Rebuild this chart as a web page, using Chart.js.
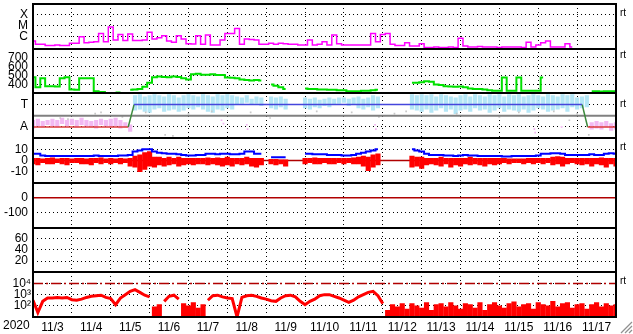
<!DOCTYPE html>
<html>
<head>
<meta charset="utf-8">
<script src="https://cdn.jsdelivr.net/npm/chart.js@4.4.1/dist/chart.umd.min.js"></script>
<style>
body{margin:0;background:#fff;}
#grafico{display:block;}
</style>
</head>
<body>
<canvas id="grafico" width="633" height="334"></canvas>
<script>
// datos: un valor cada 3 horas, dia 0 = 11/3 00:00
const paso = 0.125;
const fechas = ['11/3','11/4','11/5','11/6','11/7','11/8','11/9','11/10','11/11','11/12','11/13','11/14','11/15','11/16','11/17'];

// etiquetas de cada panel
const ticksRayos = [0, 1, 2];
const etiquetasRayos = ['C', 'M', 'X'];
const ticksViento = [400, 500, 600, 700];
const etiquetasViento = ['400', '500', '600', '700'];
const ticksSector = [-0.5, 0.5];
const etiquetasSector = ['A', 'T'];
const ticksBz = [-10, 0, 10];
const etiquetasBz = ['-10', '0', '10'];
const ticksDst = [-100, 0];
const etiquetasDst = ['-100', '0'];
const ticksAp = [20, 40, 60];
const etiquetasAp = ['20', '40', '60'];
const ticksElectrones = [2, 3, 4];
const etiquetasElectrones = ['10²', '10³', '10⁴'];

// rayos X (log, C = 0)
const rayosX = [-0.4,-0.7,-0.7,-0.8,-0.8,-0.75,-0.8,-0.8,-0.6,-0.6,
 0.0,-0.55,-0.5,-0.45,0.3,-0.45,0.9,-0.3,0.2,-0.35,
 0.25,-0.35,-0.35,-0.3,0.4,-0.2,-0.1,0.1,-0.4,-0.5,
 0.1,-0.2,-0.65,-0.66,0.1,-0.7,0.15,-0.75,-0.75,-0.3,
 0.3,0.3,0.75,-0.7,-0.2,-0.25,-0.3,-0.7,-0.7,-0.6,
 -0.7,-0.6,-0.65,-0.7,-0.7,-0.75,-0.75,-0.3,-0.75,-0.7,
 -0.45,-0.75,0.15,-0.65,-0.77,-0.77,-0.75,-0.77,-0.77,-0.77,
 0.3,-0.45,0.2,0.3,-0.7,-0.8,-0.8,-0.55,-0.85,-0.85,
 -0.65,-1.0,-1.0,-0.95,-1.0,-1.0,-0.95,-1.0,-0.15,-0.85,
 -0.95,-0.95,-0.9,-0.95,-0.95,-0.95,-1.0,-0.95,-0.95,-0.95,
 -0.95,-1.0,-0.5,-0.95,-0.75,-0.55,-0.4,-0.95,-0.95,-0.95,
 -0.65,-0.95];

// velocidad del viento solar km/s
const vientoSolar = [480,370,470,380,380,378,470,480,345,340,
 470,470,470,325,315,315,null,310,310,null,
 340,345,350,375,420,480,490,485,480,490,
 485,470,455,515,520,510,510,515,505,505,
 478,475,470,455,450,445,450,445,null,400,
 385,370,350,null,null,null,355,350,350,345,
 345,340,340,335,335,325,325,325,330,330,
 335,340,null,null,null,null,null,null,420,420,
 425,435,430,400,395,380,378,375,378,370,
 355,350,350,345,335,330,330,478,330,330,
 478,330,330,330,330,478,null,null,null,null,
 null,null,null,null,null,325,325,322,325,325,
 325];

// sector (T = 0.5, A = -0.5)
const sectorDias = [0, 2.45, 2.6, 14.13, 14.27, 15];
const sectorValores = [-0.5, -0.5, 0.5, 0.5, -0.5, -0.5];

// angulo: rango min/max por intervalo
const faseAzulInicio = 21;
const faseAzul = [[0.25,0.9],[0.3,0.95],[0.2,0.85],[0.15,0.9],[0.3,0.95],[0.35,0.9],[0.2,0.85],[0.25,0.95],[0.3,0.9],[0.2,0.8],
 [0.25,0.9],[0.35,0.95],[0.3,0.9],[0.4,0.85],[0.3,0.95],[0.2,0.9],[0.15,0.85],[0.3,0.95],[0.25,0.9],[0.35,0.95],
 [0.3,0.9],[0.5,0.85],[0.55,0.8],[0.6,0.9],[0.5,0.75],[0.55,0.85],[0.45,0.8],null,
 [0.35,0.85],[0.3,0.8],[0.4,0.85],[0.3,0.75],null,null,null,
 [0.35,0.8],[0.3,0.75],[0.4,0.8],[0.35,0.7],[0.45,0.75],[0.4,0.8],[0.5,0.75],[0.55,0.8],[0.6,0.8],[0.45,0.75],
 [0.5,0.8],[0.35,0.85],[0.3,0.75],[0.4,0.8],[0.25,0.9],[0.35,0.85],null,null,null,null,null,null,
 [0.3,0.95],[0.25,0.9],[0.2,0.95],[0.3,0.9],[0.15,0.95],[0.25,0.85],[0.35,0.95],[0.2,0.9],[0.3,0.85],[0.1,0.8],
 [0.25,0.9],[0.3,0.95],[0.2,0.85],[0.35,0.95],[0.25,0.9],[0.3,0.85],[0.15,0.95],[0.25,0.9],[0.35,0.95],[0.2,0.85],
 [0.3,0.95],[0.25,0.9],[0.2,0.95],[0.3,0.85],[0.15,0.9],[0.25,0.95],[0.35,0.9],[0.3,0.85],[0.2,0.95],[0.25,0.9],
 [0.3,0.85],[0.35,0.95],[0.2,0.9],[0.4,0.95],[0.3,0.8],[0.35,0.85],[0.4,0.9]];
const faseRosaInicio = 0;
const faseRosa = [[-0.55,-0.2],[-0.45,-0.15],[-0.5,-0.25],[-0.4,-0.2],[-0.45,-0.15],[-0.5,-0.2],[-0.35,-0.1],[-0.45,-0.2],[-0.4,-0.15],[-0.5,-0.2],
 [-0.4,-0.1],[-0.45,-0.2],[-0.5,-0.25],[-0.55,-0.2],[-0.4,-0.15],[-0.45,-0.2],[-0.5,-0.15],[-0.45,-0.1],[-0.55,-0.2],[-0.5,-0.3],[-0.7,-0.4]];
const faseRosaFinInicio = 115;
const faseRosaFin = [[-0.6,-0.3],[-0.55,-0.25],[-0.6,-0.3],[-0.5,-0.25],[-0.65,-0.35],[-0.6,-0.3]];
const grisDias = [0.7,0.9,1.6,1.75,2.3,2.9,3.4,3.6,4.0,4.6,5.6,6.1,7.3,8.2,8.9,9.3,9.6,10.9,12.0,12.5,13.4,13.8,14.0,14.3];
const grisValores = [-0.1,-0.15,0.1,0.15,-0.05,0.15,-0.85,-0.9,0.1,0.2,0.15,-0.1,0.2,0.15,-0.05,0.1,0.2,0.1,-0.05,0.15,0.2,-0.2,0.1,-0.85];
const rosaDias = [4.85,4.9,5.5,5.52,8.8,8.82,12.9,12.92,13.6];
const rosaValores = [-0.2,-0.35,-0.4,-0.6,-0.4,-0.6,-0.6,-0.75,-0.5];

// campo magnetico nT
const bt = [6,6,4.5,4,4,4,4,4,4,4,
 4,4,4,4.5,4,4,4,4,4.5,4.5,
 5,8,9,10,10,8,7,6.5,6,6,
 5.5,5,4.5,4.5,5,5,6,6,5.5,6,
 6,5.5,5.5,6,8,8,6,6,null,3,
 3,3,3,null,null,null,6,6,5.5,5.5,
 5.5,5,5,5,4.5,4.5,5,6,7,8,
 9,10,null,null,null,null,null,null,10,9,
 8,6,5,5,5,4.5,4.5,4,4.5,5,
 4.5,4.5,4,4,4,4,4,3.5,3.5,4,
 4,4,4,4,4.5,6,6,6.5,6.5,6,
 5,5,5,5,5,5.5,5,5,6,6.5,6];
const bzRango = [[-3,2],[-4,2],[-2,1.5],[-3,2],[-3,2.5],[-2,1.5],[-3,2],[-4,2],[-2,1.5],[-2,2],
 [-3,2],[-3,1.5],[-4,2],[-2,2],[-3,2.5],[-2,1.5],[-3,2],[-2,1.5],[-3,2],[-2,1.5],
 [-5,2],[-6,4],[-10,5],[-8,7],[-5,8],[-6,3],[-4,3],[-5,2],[-4,3],[-3,2],
 [-5,3],[-4,2],[-3,2],[-4,2],[-3,2],[-3,2],[-4,2.5],[-3,2],[-4,2.5],[-5,2],
 [-4,3],[-5,2],[-3,2],[-4,2],[-3,3],[-5,2],[-6,2],[-4,2],null,[-3,1],
 [-4,1],[-3,0.5],[-5,0.5],null,null,null,[-3,2],[-2,2],[-3,2.5],[-3,2],
 [-2,2],[-3,2],[-3,2],[-2,2],[-3,2],[-2,2],[-3,2.5],[-3,3],[-5,4],[-9,3],
 [-6,5],[-4,6],null,null,null,null,null,null,[-6,4],[-5,3],
 [-7,3],[-4,2],[-3,2],[-4,2],[-5,3],[-3,2],[-6,2],[-4,2],[-5,2],[-3,2],
 [-4,3],[-3,2],[-4,2],[-5,2],[-3,2],[-4,2],[-3,2],[-2,2],[-3,1.5],[-2,1.5],
 [-2,1.5],[-3,1.5],[-2,2],[-3,2],[-2,2],[-3,2],[-2,2],[-4,3],[-3,3.5],[-5,3],
 [-3,2],[-2,2],[-3,2],[-4,2],[-3,2],[-5,2],[-3,2],[-4,2.5],[-6,2],[-3,2],[-5,2]];

// electrones (log)
const electrones = [2.5,1.4,2.4,2.7,2.7,2.75,2.7,2.75,2.55,2.5,
 2.6,2.75,2.85,2.9,2.95,2.75,2.65,2.1,2.7,3.0,
 3.3,3.45,3.2,2.95,2.8,null,null,2.4,2.85,2.95,
 2.6,null,null,null,null,null,2.5,2.9,2.95,2.8,
 2.7,2.65,1.0,2.75,2.9,2.95,2.85,2.7,2.6,2.45,
 2.4,2.7,2.9,2.95,2.8,2.4,2.1,2.4,2.6,2.9,
 3.0,3.0,2.85,2.7,2.5,2.3,2.5,2.8,3.0,3.2,
 3.3,2.9,2.2];
const caidaElectrones1 = [1.9, 2.1];
const caidaElectrones2 = [2.2, 2.0, 2.3, 1.8, 2.1];
const electronesRuido = [1.6,2.1,1.9,2.2,1.7,2.2,2.0,1.8,2.3,1.6,
 2.1,2.2,1.9,2.3,2.0,1.7,2.2,2.1,1.8,2.3,
 1.6,2.1,2.3,2.0,1.8,2.2,2.35,1.9,2.1,2.2,
 1.7,2.3,2.1,2.0,2.4,1.9,2.2,2.3,1.8,2.1,
 2.2,1.7,2.1,2.3,1.9,2.2,2.0,2.1];

const fuente = { family: 'Liberation Sans, Arial, sans-serif', size: 12 };

function serie(valores, inicio){
    return valores.map((v, i) => ({ x: (inicio + i) * paso, y: v }));
}

function barras(valores, inicio){
    return serie(valores, inicio).filter(p => p.y !== null);
}

function puntos(dias, valores){
    return dias.map((d, i) => ({ x: d, y: valores[i] }));
}

function lineaFija(valor){
    return [{ x: 0, y: valor }, { x: 15, y: valor }];
}

function sinRelleno(eje){
    eje.paddingTop = 0;
    eje.paddingBottom = 0;
    eje.paddingLeft = 0;
    eje.paddingRight = 0;
}

function ejeY(min, max, valores, etiquetas, relleno){
    return {
        type: 'linear',
        position: 'left',
        stack: 'paneles',
        stackWeight: 1,
        min: min,
        max: max,
        afterBuildTicks: (eje) => { eje.ticks = valores.map(v => ({ value: v })); },
        afterFit: (eje) => { eje.width = 33; sinRelleno(eje); },
        ticks: {
            autoSkip: false,
            callback: (v, i) => etiquetas[i],
            padding: relleno,
            color: '#000',
            font: fuente
        },
        grid: { color: '#000', lineWidth: 1, drawTicks: false },
        border: { display: false, dash: [1, 3] }
    };
}

// marcos de los paneles, recorte por panel y textos sueltos
const marcoPaneles = {
    id: 'marcoPaneles',
    beforeDatasetDraw(chart, args){
        const eje = args.meta.yScale;
        const area = chart.chartArea;
        const ctx = chart.ctx;
        ctx.save();
        ctx.beginPath();
        ctx.rect(area.left, eje.top, area.right - area.left, eje.bottom - eje.top);
        ctx.clip();
    },
    afterDatasetDraw(chart){
        chart.ctx.restore();
    },
    afterDraw(chart){
        const ctx = chart.ctx;
        const area = chart.chartArea;
        ctx.save();
        ctx.strokeStyle = '#000';
        ctx.lineWidth = 2;
        ctx.strokeRect(area.left, area.top, area.right - area.left, area.bottom - area.top);
        ['yRx','yVel','yTA','yBz','yDst','yAp'].forEach(id => {
            const y = Math.round(chart.scales[id].bottom);
            ctx.beginPath();
            ctx.moveTo(area.left, y);
            ctx.lineTo(area.right, y);
            ctx.stroke();
        });
        ctx.fillStyle = '#000';
        ctx.font = '10px Liberation Sans, Arial, sans-serif';
        ctx.textBaseline = 'middle';
        ctx.textAlign = 'left';
        [['yRx', 9], ['yVel', 7], ['yTA', 11], ['yBz', 9], ['yEle', 9]].forEach(r => {
            ctx.fillText('rt', area.right + 4, chart.scales[r[0]].top + r[1]);
        });
        ctx.font = '12px Liberation Sans, Arial, sans-serif';
        ctx.fillText('2020', 3, 326);
        // esquina de redimension
        ctx.strokeStyle = '#909090';
        ctx.lineWidth = 1.2;
        [3, 7, 11].forEach(d => {
            ctx.beginPath();
            ctx.moveTo(632, 333 - d);
            ctx.lineTo(632 - d, 333);
            ctx.stroke();
        });
        ctx.restore();
    }
};

function graficos(){
    const ctx = document.getElementById('grafico');
    const tramoSector = (s) => {
        if (s.p0.parsed.y !== s.p1.parsed.y) return '#3d8a3d';
        return s.p0.parsed.y > 0 ? '#4646dc' : '#dc3c3c';
    };
    new Chart(ctx, {
        type: 'line',
        data: {
            datasets: [
                { yAxisID: 'yTA', data: puntos(sectorDias, sectorValores), borderColor: '#4646dc', borderWidth: 1.5, pointRadius: 0, segment: { borderColor: tramoSector } },
                { yAxisID: 'yTA', data: lineaFija(0), borderColor: '#808080', borderWidth: 2, pointRadius: 0 },
                { yAxisID: 'yTA', data: puntos(grisDias, grisValores), showLine: false, pointStyle: 'rect', pointRadius: 1.2, borderWidth: 0, backgroundColor: '#c8c8c8' },
                { yAxisID: 'yTA', data: puntos(rosaDias, rosaValores), showLine: false, pointStyle: 'rect', pointRadius: 1.2, borderWidth: 0, backgroundColor: '#f2b4f2' },
                { type: 'bar', yAxisID: 'yTA', data: barras(faseAzul, faseAzulInicio), backgroundColor: '#b4e6f6', barThickness: 3.5, grouped: false, borderWidth: 0 },
                { type: 'bar', yAxisID: 'yTA', data: barras(faseRosa, faseRosaInicio).concat(barras(faseRosaFin, faseRosaFinInicio)), backgroundColor: '#f2b8f2', barThickness: 3.5, grouped: false, borderWidth: 0 },
                { yAxisID: 'yRx', data: serie(rayosX, 0), borderColor: '#ff00ff', borderWidth: 1.5, pointRadius: 0, stepped: 'middle' },
                { yAxisID: 'yVel', data: serie(vientoSolar, 0), borderColor: '#00e000', borderWidth: 2, pointRadius: 0, stepped: 'middle' },
                { yAxisID: 'yBz', data: serie(bt, 0), borderColor: '#0000ff', borderWidth: 2, pointRadius: 0, stepped: 'middle' },
                { type: 'bar', yAxisID: 'yBz', data: barras(bzRango, 0), backgroundColor: '#ff0000', barThickness: 4.5, grouped: false, borderWidth: 0 },
                { yAxisID: 'yBz', data: lineaFija(0), borderColor: '#b00000', borderWidth: 1.5, pointRadius: 0 },
                { yAxisID: 'yDst', data: lineaFija(0), borderColor: '#b00000', borderWidth: 1.5, pointRadius: 0 },
                { yAxisID: 'yEle', data: serie(electrones, 0), borderColor: '#ff0000', borderWidth: 3, pointRadius: 0 },
                { type: 'bar', yAxisID: 'yEle', data: barras(caidaElectrones1, 25).concat(barras(caidaElectrones2, 31), barras(electronesRuido, 73)), backgroundColor: '#ff0000', barThickness: 4.5, grouped: false, borderWidth: 0 },
                { yAxisID: 'yEle', data: lineaFija(4), borderColor: '#b00000', borderWidth: 1.5, borderDash: [10, 3, 2, 3], pointRadius: 0 }
            ]
        },
        options: {
            responsive: false,
            animation: false,
            devicePixelRatio: 1,
            layout: { padding: { top: 3, right: 17, left: 0, bottom: 0 } },
            plugins: { legend: { display: false }, tooltip: { enabled: false } },
            scales: {
                yEle: ejeY(1, 5, ticksElectrones, etiquetasElectrones, 2),
                yAp: ejeY(0, 80, ticksAp, etiquetasAp, 5),
                yDst: ejeY(-200, 100, ticksDst, etiquetasDst, 5),
                yBz: ejeY(-20, 20, ticksBz, etiquetasBz, 5),
                yTA: ejeY(-1, 1, ticksSector, etiquetasSector, 5),
                yVel: ejeY(300, 800, ticksViento, etiquetasViento, 5),
                yRx: ejeY(-1.1, 3, ticksRayos, etiquetasRayos, 5),
                x: {
                    type: 'linear',
                    min: 0,
                    max: 15,
                    offset: false,
                    afterBuildTicks: (eje) => {
                        let marcas = [];
                        for (let i = 0; i <= 30; i++) marcas.push({ value: i / 2 });
                        eje.ticks = marcas;
                    },
                    afterFit: (eje) => { eje.height = 17; sinRelleno(eje); },
                    ticks: {
                        autoSkip: false,
                        maxRotation: 0,
                        padding: 3,
                        color: '#000',
                        font: fuente,
                        callback: (v) => (v % 1 === 0.5) ? fechas[Math.floor(v)] : ''
                    },
                    grid: {
                        offset: false,
                        drawTicks: false,
                        lineWidth: 1,
                        color: (c) => (c.tick && c.tick.value % 1 === 0) ? '#000' : 'rgba(0,0,0,0)'
                    },
                    border: { display: false, dash: [1, 3] }
                }
            }
        },
        plugins: [marcoPaneles]
    });
}

graficos();
</script>
</body>
</html>
